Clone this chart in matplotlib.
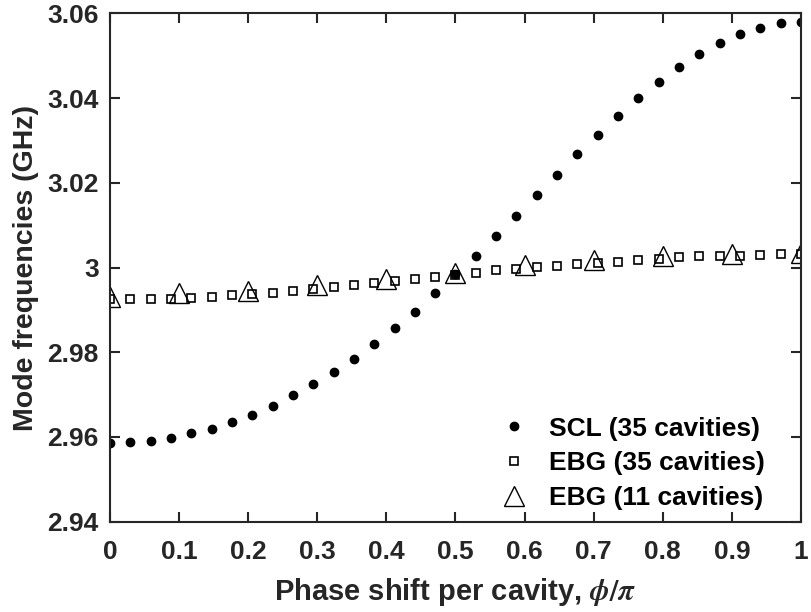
import numpy as np
import matplotlib
matplotlib.use('Agg')
import matplotlib.pyplot as plt

plt.rcParams['font.family'] = ['Liberation Sans', 'DejaVu Sans']
plt.rcParams['font.weight'] = 'bold'
plt.rcParams['mathtext.fontset'] = 'stix'

# phase shift per cavity (phi/pi)
phase_35 = np.linspace(0, 1, 35)
phase_11 = np.linspace(0, 1, 11)

scl_35 = [2.9586, 2.9588, 2.9591, 2.9598, 2.9609, 2.9620, 2.9635, 2.9653,
          2.9674, 2.9698, 2.9725, 2.9754, 2.9785, 2.9820, 2.9857, 2.9896,
          2.9939, 2.9984, 3.0028, 3.0075, 3.0122, 3.0170, 3.0219, 3.0267,
          3.0313, 3.0357, 3.0399, 3.0438, 3.0473, 3.0504, 3.0530, 3.0552,
          3.0566, 3.0576, 3.0579]

ebg_35 = [2.9925, 2.9925, 2.9925, 2.9926, 2.9928, 2.9930, 2.9934, 2.9937,
          2.9941, 2.9944, 2.9949, 2.9953, 2.9958, 2.9963, 2.9967, 2.9972,
          2.9977, 2.9982, 2.9988, 2.9993, 2.9997, 3.0002, 3.0004, 3.0008,
          3.0010, 3.0014, 3.0018, 3.0021, 3.0024, 3.0026, 3.0027, 3.0027,
          3.0030, 3.0031, 3.0031]

ebg_11 = [2.9931, 2.9939, 2.9945, 2.9959, 2.9973, 2.9986, 3.0006, 3.0018,
          3.0027, 3.0032, 3.0034]

fig = plt.figure(figsize=(8.11, 6.12), dpi=100)
ax = fig.add_axes([0.1356, 0.1475, 0.8521, 0.8308])

ax.plot(phase_35, scl_35, 'o', color='black', markersize=6,
        linestyle='none', label='SCL (35 cavities)')
ax.plot(phase_35, ebg_35, 's', markerfacecolor='none', markeredgecolor='black',
        markersize=5.5, markeredgewidth=1.2, linestyle='none',
        label='EBG (35 cavities)')
ax.plot(phase_11, ebg_11, '^', markerfacecolor='none', markeredgecolor='black',
        markersize=15, markeredgewidth=1.0, linestyle='none',
        label='EBG (11 cavities)')

ax.set_xlim(0, 1)
ax.set_ylim(2.94, 3.06)
ax.set_xticks(np.arange(0, 1.01, 0.1))
ax.set_xticklabels(['0', '0.1', '0.2', '0.3', '0.4', '0.5', '0.6', '0.7',
                    '0.8', '0.9', '1'])
ax.set_yticks([2.94, 2.96, 2.98, 3.0, 3.02, 3.04, 3.06])
ax.set_yticklabels(['2.94', '2.96', '2.98', '3', '3.02', '3.04', '3.06'])

ax.tick_params(direction='in', length=7, width=1.5, top=True, right=True,
               labelsize=19, colors='#262626', labelcolor='#262626')
ax.tick_params(axis='x', pad=13)
ax.tick_params(axis='y', pad=8)
for s in ax.spines.values():
    s.set_linewidth(1.5)
    s.set_color('#262626')

ax.set_xlabel('Phase shift per cavity, $\\phi/\\pi$', fontsize=21,
              fontweight='bold', labelpad=9, color='#262626')
ax.set_ylabel('Mode frequencies (GHz)', fontsize=20.5, fontweight='bold',
              labelpad=6, color='#262626')

ax.legend(loc='lower right', bbox_to_anchor=(0.9595, 0.008), frameon=False,
          fontsize=19, handlelength=1.0, handletextpad=0.85, borderaxespad=0,
          labelspacing=0.4, borderpad=0.3)

fig.savefig('out.png', dpi=100)
